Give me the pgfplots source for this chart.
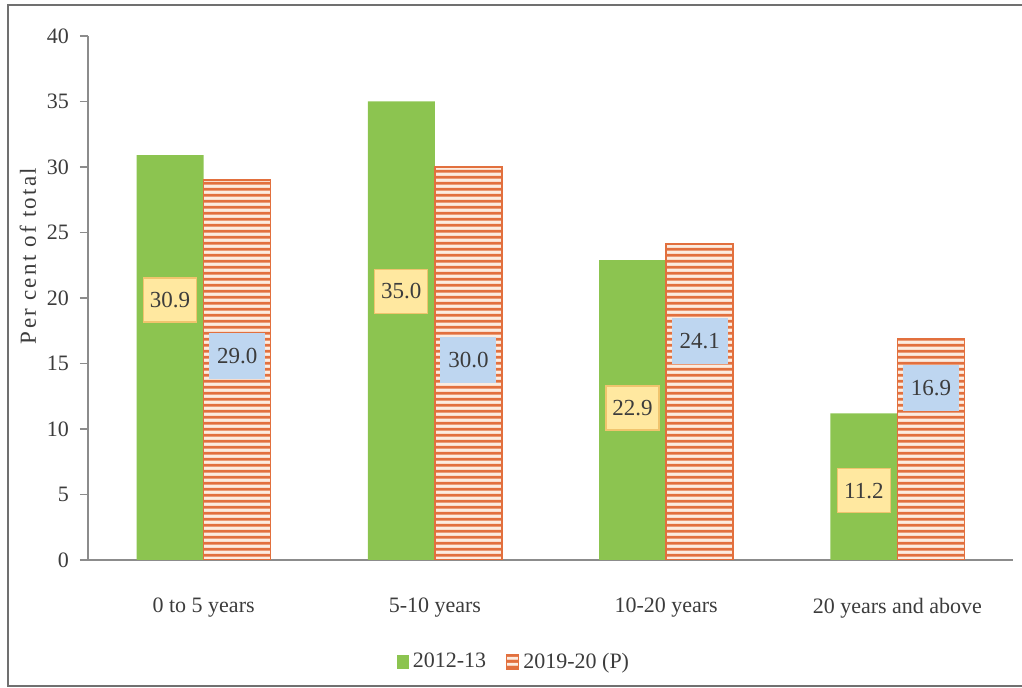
\documentclass[border=0pt]{standalone}
\usepackage{pgfplots}
\pgfplotsset{compat=1.18}
\usepackage{fontspec}
\setmainfont{Liberation Serif}
\usetikzlibrary{patterns}
\definecolor{mygreen}{RGB}{140,196,80}
\definecolor{myorange}{RGB}{226,112,62}
\definecolor{mypeach}{RGB}{252,236,224}
\definecolor{ybox}{RGB}{255,232,160}
\definecolor{yboxb}{RGB}{240,196,110}
\definecolor{bbox}{RGB}{190,214,240}
\definecolor{txt}{RGB}{60,60,60}
\definecolor{axc}{RGB}{140,140,140}
\pgfdeclarepatternformonly{hstripes}{\pgfqpoint{0pt}{0pt}}{\pgfqpoint{4pt}{3.1bp}}{\pgfqpoint{4pt}{3.1bp}}{%
  \pgfsetlinewidth{1.5bp}%
  \pgfpathmoveto{\pgfqpoint{0pt}{1.55bp}}%
  \pgfpathlineto{\pgfqpoint{4pt}{1.55bp}}%
  \pgfusepath{stroke}}
\pgfplotstableread{
x v1 v2
0 30.9 29.0
1 35.0 30.0
2 22.9 24.1
3 11.2 16.9
}\mydata
\begin{document}
\begin{tikzpicture}[font=\fontsize{11bp}{13bp}\selectfont]
\path[use as bounding box] (-44bp,-64bp) rectangle (467bp,280bp);
\draw[axc!80!black,line width=1.2bp] (467bp,277.5bp) -- (-40bp,277.5bp) -- (-40bp,-63bp) -- (467bp,-63bp);
\begin{axis}[
  at={(0,0)}, anchor=south west,
  scale only axis, width=462.5bp, height=262bp,
  xmin=-0.5, xmax=3.5, ymin=0, ymax=40,
  axis lines*=left,
  axis line style={axc, line width=0.8bp},
  ybar, bar width=0.29,
  /pgf/number format/assume math mode=true,
  xtick={0,1,2,3},
  xticklabels={0 to 5 years,5-10 years,10-20 years,20 years and above},
  major x tick style={draw=none},
  extra x ticks={0.5,1.5,2.5,3.5},
  extra x tick labels={},
  extra x tick style={tick style={axc, line width=0.8bp}, major tick length=4bp, tick align=outside},
  ytick={0,5,...,40},
  tick align=outside,
  major tick length=4bp,
  tick style={axc, line width=0.8bp},
  y tick label style={text=txt, xshift=-2bp},
  x tick label style={text=txt, anchor=center, yshift=-20bp},
  ticklabel style={font=\fontsize{11bp}{13bp}\selectfont},
  legend style={at={(0.4616,-0.1947)}, anchor=center, draw=none, fill=none,
    legend columns=2, font=\fontsize{11bp}{13bp}\selectfont, text=txt,
    /tikz/every even column/.append style={column sep=8bp},
    inner sep=0pt, cells={anchor=west}},
]
\addplot[bar shift=-0.145, fill=mygreen, draw=none,
  legend image code/.code={\fill[mygreen] (0bp,-3.5bp) rectangle (6bp,3.5bp);}]
  table[x=x, y=v1] {\mydata};
\addlegendentry{2012-13}
\addplot[bar shift=0.145, fill=mypeach, draw=myorange, line width=0.8bp,
  postaction={pattern=hstripes, pattern color=myorange},
  legend image code/.code={\draw[myorange, fill=mypeach, line width=0.6bp, postaction={pattern=hstripes, pattern color=myorange}] (0bp,-3.5bp) rectangle (6bp,3.5bp);}]
  table[x=x, y=v2] {\mydata};
\addlegendentry{2019-20 (P)}
\tikzset{yl/.style={fill=ybox, draw=yboxb, line width=0.6bp, text=txt, minimum width=26.5bp, minimum height=22bp, inner sep=0pt, font=\fontsize{11.5bp}{13bp}\selectfont},
         bl/.style={fill=bbox, draw=none, text=txt, minimum width=28bp, minimum height=23bp, inner sep=0pt, font=\fontsize{11.5bp}{13bp}\selectfont}}
\node[yl] at (axis cs:-0.145,19.85) {30.9};
\node[bl] at (axis cs:0.145,15.6) {29.0};
\node[yl] at (axis cs:0.855,20.5) {35.0};
\node[bl] at (axis cs:1.145,15.3) {30.0};
\node[yl] at (axis cs:1.855,11.6) {22.9};
\node[bl] at (axis cs:2.145,16.7) {24.1};
\node[yl] at (axis cs:2.855,5.3) {11.2};
\node[bl] at (axis cs:3.145,13.1) {16.9};
\end{axis}
\node[rotate=90, text=txt, font=\fontsize{11.5bp}{13bp}\selectfont\addfontfeature{LetterSpace=10}] at (-30bp,152bp) {Per cent of total};
\end{tikzpicture}
\end{document}
